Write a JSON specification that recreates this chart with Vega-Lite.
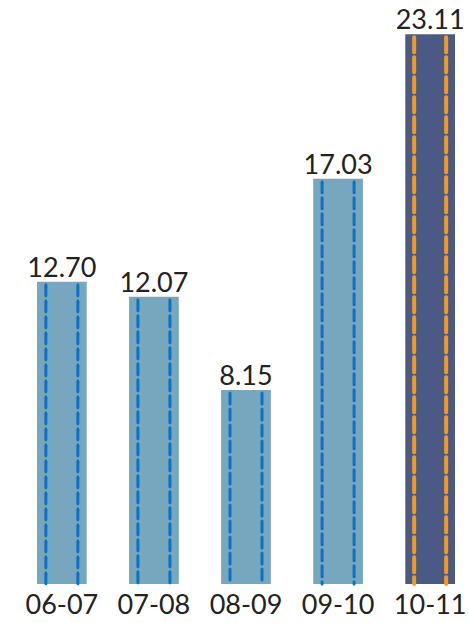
{
  "$schema": "https://vega.github.io/schema/vega-lite/v6.json",
  "width": 418,
  "height": 571,
  "autosize": {"type": "none"},
  "padding": {"left": 37, "top": 13, "right": 13, "bottom": 39},
  "background": "white",
  "config": {"view": {"stroke": null}, "font": "Lato"},
  "data": {"values": [
    {"period": "06-07", "value": 12.70},
    {"period": "07-08", "value": 12.07},
    {"period": "08-09", "value": 8.15},
    {"period": "09-10", "value": 17.03},
    {"period": "10-11", "value": 23.11}
  ]},
  "encoding": {
    "x": {"field": "period", "type": "nominal", "sort": null,
      "scale": {"paddingInner": 0.46, "paddingOuter": 0},
      "axis": {"title": null, "domain": false, "ticks": false, "labelAngle": 0,
        "labelFontSize": 27, "labelColor": "#222222", "labelPadding": 8, "labelFont": "Lato"}},
    "y": {"field": "value", "type": "quantitative",
      "scale": {"domain": [0, 24], "nice": false},
      "axis": null}
  },
  "layer": [
    {"mark": {"type": "bar"},
     "encoding": {"color": {"condition": {"test": "datum.period === '10-11'", "value": "#4A5A85"}, "value": "#77A7BE"}}},
    {"mark": {"type": "rule", "xOffset": -16, "strokeCap": "round", "strokeDashOffset": -3},
     "encoding": {"y2": {"datum": 0},
       "color": {"condition": {"test": "datum.period === '10-11'", "value": "#F59A1F"}, "value": "#0A72C4"},
       "strokeWidth": {"condition": {"test": "datum.period === '10-11'", "value": 4}, "value": 3},
       "strokeDash": {"condition": {"test": "datum.period === '10-11'", "value": [15, 5]}, "value": [11, 5]}}},
    {"mark": {"type": "rule", "xOffset": 16, "strokeCap": "round", "strokeDashOffset": -3},
     "encoding": {"y2": {"datum": 0},
       "color": {"condition": {"test": "datum.period === '10-11'", "value": "#F59A1F"}, "value": "#0A72C4"},
       "strokeWidth": {"condition": {"test": "datum.period === '10-11'", "value": 4}, "value": 3},
       "strokeDash": {"condition": {"test": "datum.period === '10-11'", "value": [15, 5]}, "value": [11, 5]}}},
    {"mark": {"type": "text", "baseline": "alphabetic", "dy": -5, "fontSize": 27, "color": "#222222", "font": "Lato"},
     "encoding": {"text": {"field": "value", "type": "quantitative", "format": ".2f"}}}
  ]
}
